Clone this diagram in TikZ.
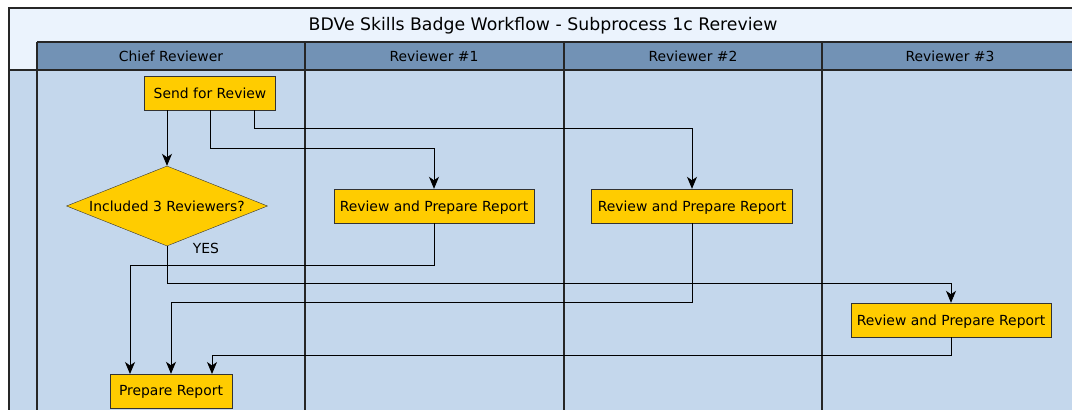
\documentclass[tikz,border=0pt]{standalone}
\usepackage{fontspec}
\setmainfont{DejaVu Sans}
\usetikzlibrary{shapes.geometric,arrows.meta}
\definecolor{poolbg}{RGB}{235,243,253}
\definecolor{lanehead}{RGB}{114,146,181}
\definecolor{lanebody}{RGB}{196,215,236}
\definecolor{taskfill}{RGB}{255,204,0}
\tikzset{
  lbl/.style={font=\fontsize{13.9}{16}\selectfont},
  task/.style={lbl, draw=black!80, fill=taskfill, minimum height=34pt, inner sep=0pt,
    text depth=0.5pt},
  decision/.style={lbl, diamond, draw=black!80, fill=taskfill, minimum width=201pt,
    minimum height=80pt, inner sep=0pt, aspect=2.5, text depth=0.5pt},
  flow/.style={draw=black, line width=0.9pt, -{Stealth[length=12pt,width=10pt,inset=3.5pt]}},
  sep/.style={draw=black!85, line width=1.2pt}
}
\begin{document}
\begin{tikzpicture}[x=1pt,y=-1pt]
\useasboundingbox (0,0) rectangle (1072,410);
% pool and lanes
\fill[poolbg] (9,8) rectangle (1080,70);
\fill[lanebody] (9,70) rectangle (1080,420);
\fill[lanehead] (37,42) rectangle (1080,70);
\draw[sep] (9,420) -- (9,8) -- (1080,8);
\draw[sep] (37,42) -- (1080,42);
\draw[sep] (9,70) -- (1080,70);
\foreach \x in {37,305,564,822} \draw[sep] (\x,42) -- (\x,420);
\node[font=\fontsize{17.3}{20}\selectfont, text depth=0.5pt] (title) at (543,24.5) {BDVe Skills Badge Workflow - Subprocess 1c Rereview};
\node[lbl] (l0) at (171,56) {Chief Reviewer};
\node[lbl] (l1) at (434,56) {Reviewer \#1};
\node[lbl] (l2) at (693,56) {Reviewer \#2};
\node[lbl] (l3) at (950,56) {Reviewer \#3};
% tasks
\node[task, minimum width=131pt] (send) at (210,93) {Send for Review};
\node[decision] (dec) at (167,206) {Included 3 Reviewers?};
\node[task, minimum width=200pt] (r1) at (434,206) {Review and Prepare Report};
\node[task, minimum width=201pt] (r2) at (692,206) {Review and Prepare Report};
\node[task, minimum width=200pt] (r3) at (951,320) {Review and Prepare Report};
\node[task, minimum width=122pt] (prep) at (171,391) {Prepare Report};
% connectors
\draw[flow] (send.south -| dec.north) -- (dec.north);
\draw[flow] (send.south) -- (210,148) -| (r1.north);
\draw[flow] (254,110) -- (254,128) -| (r2.north);
\draw[flow] (dec.south) -- (167,283) -| (r3.north);
\node[lbl] (yes) at (206,248) {YES};
\draw[flow] (r1.south) -- (434,265) -| (130,374);
\draw[flow] (r2.south) -- (692,302) -| (prep.north);
\draw[flow] (r3.south) -- (951,355) -| (212,374);
\end{tikzpicture}
\end{document}
